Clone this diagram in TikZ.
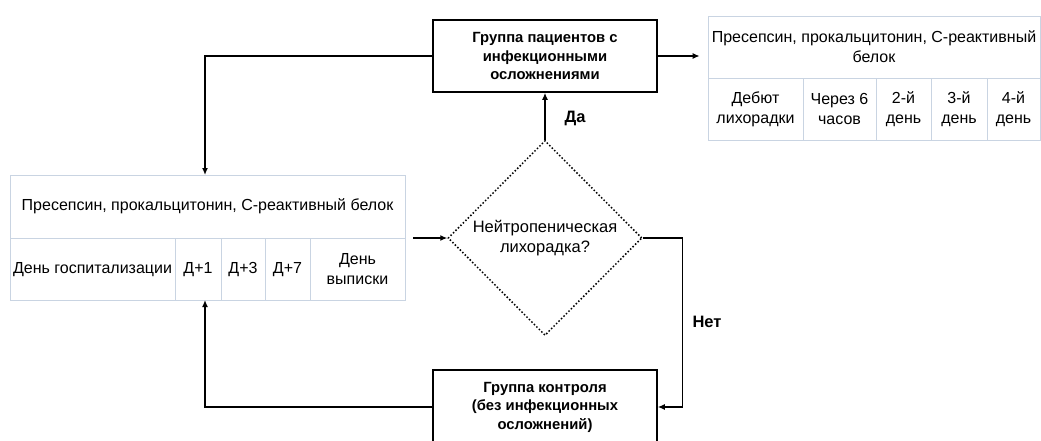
\documentclass[tikz,border=0pt]{standalone}
\usepackage{fontspec}
\setmainfont{Liberation Sans}
\usetikzlibrary{shapes.geometric,arrows.meta}
\definecolor{tblline}{HTML}{C9D4E2}
\tikzset{
    cell/.style={draw=tblline, line width=0.8pt, rectangle, inner sep=0pt, align=center,
        font=\fontsize{16}{20}\selectfont},
    grpbox/.style={draw=black, line width=1.5pt, rectangle, inner sep=0pt, align=center,
        minimum width=224pt, font=\bfseries\fontsize{14.8}{18.5}\selectfont},
    arr/.style={-{Latex[length=7pt,width=6pt]}, line width=1.3pt},
    lbl/.style={font=\bfseries\fontsize{16.5}{18}\selectfont}
}
\begin{document}
\begin{tikzpicture}[x=1pt, y=-1pt]
        \useasboundingbox (0,0) rectangle (1041,440);

        % left table
        \node[cell, minimum width=395pt, minimum height=63pt] (lhead) at (207.5,206.5) {Пресепсин, прокальцитонин, С-реактивный белок};
        \node[cell, minimum width=165pt, minimum height=62pt] (lc1) at (92.5,269) {\strut День госпитализации};
        \node[cell, minimum width=46pt, minimum height=62pt] (lc2) at (198,269) {\strut Д+1};
        \node[cell, minimum width=44pt, minimum height=62pt] (lc3) at (243,269) {\strut Д+3};
        \node[cell, minimum width=45pt, minimum height=62pt] (lc4) at (287.5,269) {\strut Д+7};
        \node[cell, minimum width=95pt, minimum height=62pt] (lc5) at (357.5,269) {День\\выписки};

        % right table
        \node[cell, minimum width=332pt, minimum height=62pt] (rhead) at (874,47) {Пресепсин, прокальцитонин, С-реактивный\\белок};
        \node[cell, minimum width=95pt, minimum height=62pt] (rc1) at (755.5,109) {Дебют\\лихорадки};
        \node[cell, minimum width=73pt, minimum height=62pt] (rc2) at (839.5,109) {Через 6\\часов};
        \node[cell, minimum width=55pt, minimum height=62pt] (rc3) at (903.5,109) {2-й\\день};
        \node[cell, minimum width=56pt, minimum height=62pt] (rc4) at (959,109) {3-й\\день};
        \node[cell, minimum width=53pt, minimum height=62pt] (rc5) at (1013.5,109) {4-й\\день};

        % groups and decision
        \node[grpbox, minimum height=72pt] (grp) at (545,56) {Группа пациентов с\\инфекционными\\осложнениями};
        \node[grpbox, minimum height=74pt] (ctrl) at (545,407) {Группа контроля\\(без инфекционных\\осложнений)};
        \node[diamond, draw, dotted, line width=1.5pt, aspect=1, minimum width=194pt, minimum height=195pt,
            inner sep=0pt, align=center, font=\fontsize{16.5}{20}\selectfont] (dia) at (545,238) {Нейтропеническая\\лихорадка?};

        \coordinate (lup) at (205,175);
        \coordinate (ldown) at (205,300);
        \coordinate (lout) at (405,238);

        \draw[arr] (grp.west) -| (lup);
        \draw[arr, shorten >=8pt] (grp.east) -- (grp.east -| rhead.west);
        \draw[arr, shorten <=8pt] (lout) -- (dia.west);
        \draw[arr] (dia.north) -- (grp.south);
        \draw[arr] (dia.east) -- ++(40,0) |- (ctrl.east);
        \draw[arr] (ctrl.west) -| (ldown);

        \node[lbl] (yes) at (575,118) {Да};
        \node[lbl] (no) at (707,322) {Нет};
    \end{tikzpicture}
\end{document}
